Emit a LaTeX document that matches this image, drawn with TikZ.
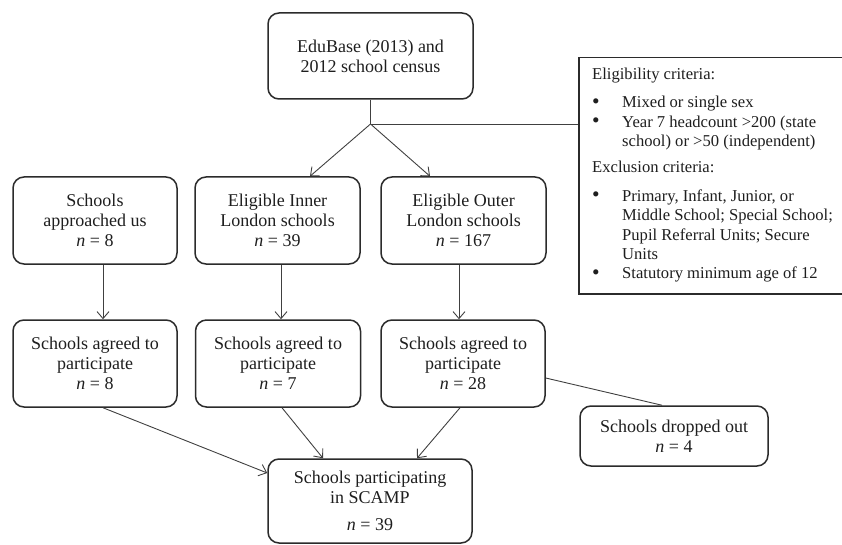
\documentclass[tikz,border=0pt]{standalone}
\usepackage{fontspec}
\usepackage{graphicx}
\setmainfont{Liberation Serif}
\usetikzlibrary{arrows.meta,calc}
\definecolor{bx}{HTML}{2B2B2B}
\definecolor{ln}{HTML}{404040}
\definecolor{tx}{HTML}{1E1E1E}
\newcommand{\critbul}{\makebox[30pt][l]{\raisebox{-0.6pt}{\scalebox{1.3}{\textbullet}}}}
\begin{document}
\begin{tikzpicture}[x=1pt,y=-1pt,
 box/.style={draw=bx, line width=1.5pt, rounded corners=11pt, align=center, inner sep=0pt,
   font=\fontsize{18}{20}\selectfont, text=tx},
 conn/.style={draw=ln, line width=0.9pt},
 arr/.style={conn, -{Straight Barb[length=7pt,width=12pt]}}]
\useasboundingbox (0,0) rectangle (842,545);

\node[box, minimum width=205pt, minimum height=86pt] (top) at (370.5,56)
  {EduBase (2013) and\\2012 school census};

\node[draw=bx, line width=1.5pt, anchor=north west, minimum width=280pt,
  minimum height=236pt, inner sep=0pt] (crit) at (578,57) {};
\node[anchor=north west, inner sep=0pt, align=left,
  font=\fontsize{16.6}{19.4}\selectfont, text=tx] (crittext) at (592,68)
  {Eligibility criteria:\\[8.5pt]
   \critbul Mixed or single sex\\
   \critbul Year 7 headcount >200 (state\\
   \hspace*{30pt}school) or >50 (independent)\\[6.5pt]
   Exclusion criteria:\\[9.5pt]
   \critbul Primary, Infant, Junior, or\\
   \hspace*{30pt}Middle School; Special School;\\
   \hspace*{30pt}Pupil Referral Units; Secure\\
   \hspace*{30pt}Units\\
   \critbul Statutory minimum age of 12};

\node[box, minimum width=164pt, minimum height=87pt] (appr) at (95,220.5)
  {Schools\\approached us\\\textit{n} = 8};
\node[box, minimum width=165pt, minimum height=87pt] (inner) at (277.5,220.5)
  {Eligible Inner\\London schools\\\textit{n} = 39};
\node[box, minimum width=165pt, minimum height=87pt] (outer) at (463.5,220.5)
  {Eligible Outer\\London schools\\\textit{n} = 167};

\node[box, minimum width=164pt, minimum height=87pt] (agr1) at (95,363.5)
  {Schools agreed to\\participate\\\textit{n} = 8};
\node[box, minimum width=165pt, minimum height=87pt] (agr2) at (278,363.5)
  {Schools agreed to\\participate\\\textit{n} = 7};
\node[box, minimum width=164pt, minimum height=87pt] (agr3) at (463,363.5)
  {Schools agreed to\\participate\\\textit{n} = 28};

\node[box, minimum width=188pt, minimum height=60pt] (drop) at (674,436)
  {Schools dropped out\\\textit{n} = 4};
\node[box, minimum width=204pt, minimum height=84pt] (final) at (370,501)
  {Schools participating\\in SCAMP\\[7pt]\textit{n} = 39};

\coordinate (J) at (top.south |- 0,124);
\draw[conn] (top.south) -- (J);
\draw[conn] (J) -- (J -| crit.west);
\draw[arr] (J) -- ([xshift=32.5pt]inner.north);
\draw[arr] (J) -- ([xshift=-33.5pt]outer.north);

\draw[arr] ([xshift=8pt]appr.south) -- ([xshift=8pt]agr1.north);
\draw[arr] ([xshift=3.5pt]inner.south) -- ([xshift=3pt]agr2.north);
\draw[arr] ([xshift=-4.5pt]outer.south) -- ([xshift=-4pt]agr3.north);

\draw[arr] ([xshift=8pt]agr1.south) -- ([yshift=28pt]final.west);
\draw[arr] ([xshift=4pt]agr2.south) -- ([xshift=-47pt]final.north);
\draw[arr] ([xshift=-3pt]agr3.south) -- ([xshift=47pt]final.north);
\draw[conn] ([yshift=-14.5pt]agr3.east) -- ([xshift=-12pt]drop.north);
\end{tikzpicture}
\end{document}
